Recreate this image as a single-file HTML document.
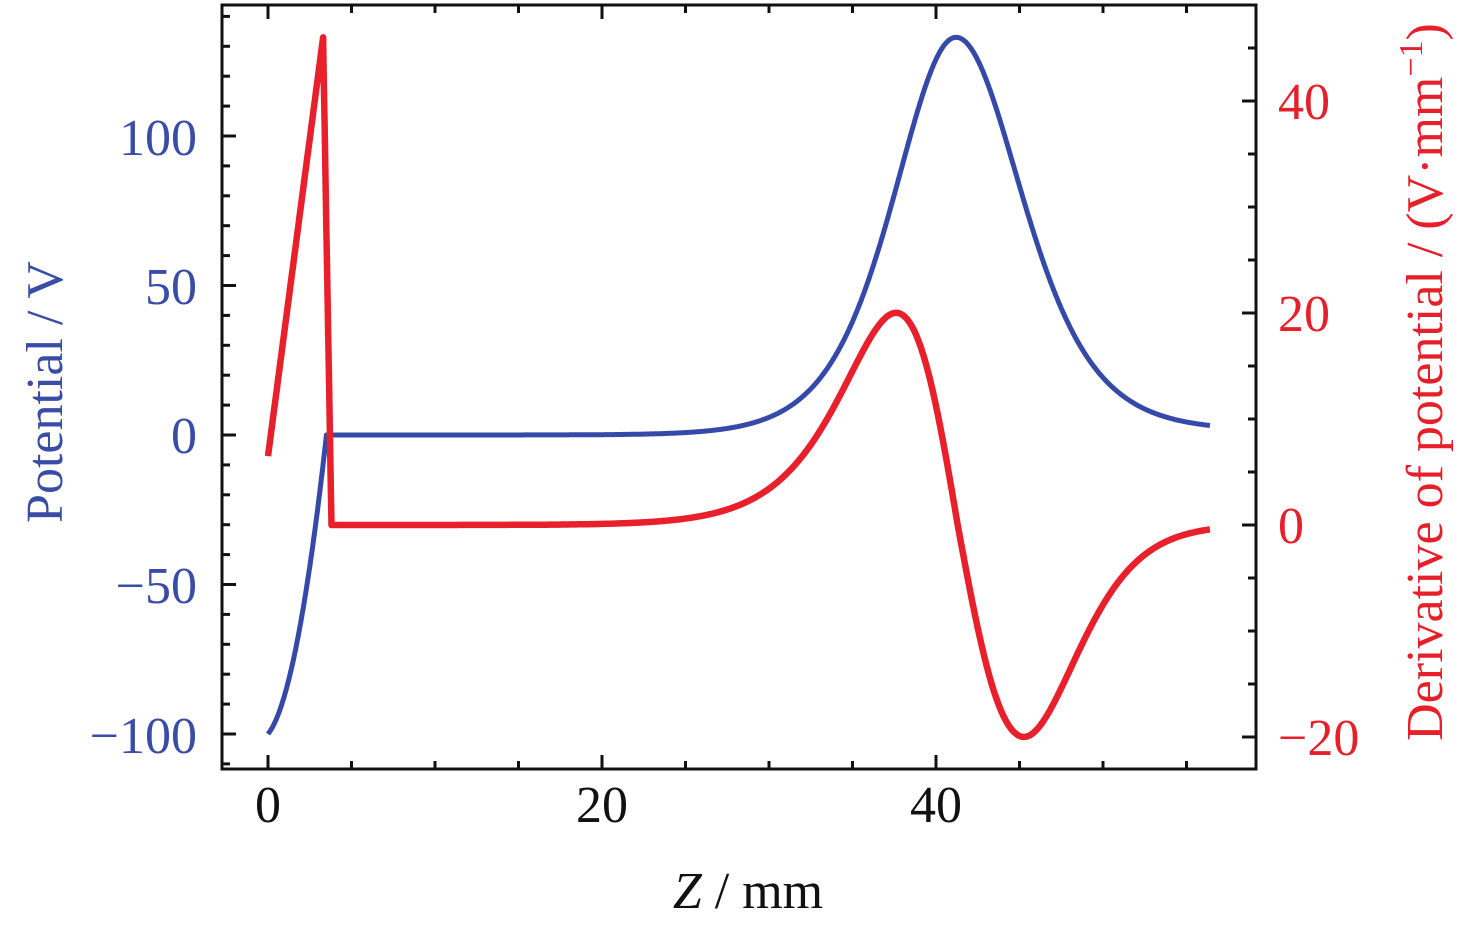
<!DOCTYPE html>
<html><head><meta charset="utf-8"><style>
html,body{margin:0;padding:0;background:#fff;}
svg{display:block;}
text{font-family:"Liberation Serif","Times New Roman",serif;}
</style></head><body>
<svg id="s" width="1476" height="926" viewBox="0 0 1476 926" xmlns="http://www.w3.org/2000/svg">
<rect x="222" y="5" width="1034" height="764" fill="none" stroke="#111" stroke-width="3"/>
<g id="ticks" stroke="#111" stroke-width="3"></g>
<g font-size="52" fill="#3a4da6" text-anchor="end" font-family="Liberation Serif">
<text x="197" y="155">100</text>
<text x="197" y="304">50</text>
<text x="197" y="453">0</text>
<text x="197" y="753">−100</text>
<text x="197" y="603">−50</text>
</g>
<g font-size="52" fill="#e5202b" text-anchor="start" font-family="Liberation Serif">
<text x="1278" y="119">40</text>
<text x="1278" y="331">20</text>
<text x="1278" y="543">0</text>
<text x="1278" y="755">−20</text>
</g>
<g font-size="52" fill="#111" text-anchor="middle" font-family="Liberation Serif">
<text x="268" y="822">0</text>
<text x="602" y="822">20</text>
<text x="936" y="822">40</text>
<text x="748" y="908"><tspan font-style="italic">Z</tspan> / mm</text>
</g>
<text font-size="52" fill="#3a4da6" text-anchor="middle" font-family="Liberation Serif" transform="translate(62,392) rotate(-90)">Potential / V</text>
<text font-size="52" fill="#e5202b" text-anchor="middle" font-family="Liberation Serif" transform="translate(1442,382) rotate(-90)">Derivative of potential / (V·mm<tspan dy="-20" font-size="34">−1</tspan><tspan dy="20">)</tspan></text>
<path id="blue" fill="none" stroke="#3549a8" stroke-width="5" stroke-linejoin="round"/>
<path id="red" fill="none" stroke="#e8202c" stroke-width="6.5" stroke-linejoin="round"/>
</svg>
<script>
const X=z=>268+z*16.7, YL=v=>435-v*2.99, YR=e=>525-e*10.6;
let t='';
for(let z=0;z<=60;z+=5){const x=X(z);if(x>1254)break;const L=z%20==0?14:8;
t+=`<line x1="${x}" y1="769" x2="${x}" y2="${769-L}"/><line x1="${x}" y1="5" x2="${x}" y2="${5+L}"/>`;}
for(let v=-110;v<=140;v+=10){const y=YL(v);if(y<8||y>767)continue;const L=v%50==0?14:8;
t+=`<line x1="222" y1="${y}" x2="${222+L}" y2="${y}"/>`;}
for(let e=-20;e<=50;e+=5){const y=YR(e);if(y<8||y>767)continue;const L=e%20==0?14:8;
t+=`<line x1="1256" y1="${y}" x2="${1256-L}" y2="${y}"/>`;}
document.getElementById('ticks').innerHTML=t;
function sech(a){return 1/Math.cosh(a);}
function V(z){
 if(z<3.5){const n=6.5*z+5.8*z*z, d=6.5*3.5+5.8*12.25;return -100+100*n/d;}
 const s=z<41.2?5:5.3;const q=Math.pow(sech((z-41.2)/s),2);return 133*q+(z>41.2?1.5*(1-q):0);
}
function E(z){
 if(z<3.3)return 6.5+(46-6.5)*z/3.3;
 if(z<3.8)return 46*(3.8-z)/0.5;
 const s=z<41.3?5.6:6.1,a=(z-41.3)/s;
 let f=1; if(a>0.6) f=Math.exp(-0.35*(a-0.6)*(a-0.6));
 return -52*Math.pow(sech(a),2)*Math.tanh(a)*f;
}
let b='',r='';
for(let z=0;z<=56.4;z+=0.05){b+=(b?'L':'M')+X(z).toFixed(1)+','+YL(V(z)).toFixed(1);r+=(r?'L':'M')+X(z).toFixed(1)+','+YR(E(z)).toFixed(1);}
document.getElementById('blue').setAttribute('d',b);
document.getElementById('red').setAttribute('d',r);
</script>
</body></html>
